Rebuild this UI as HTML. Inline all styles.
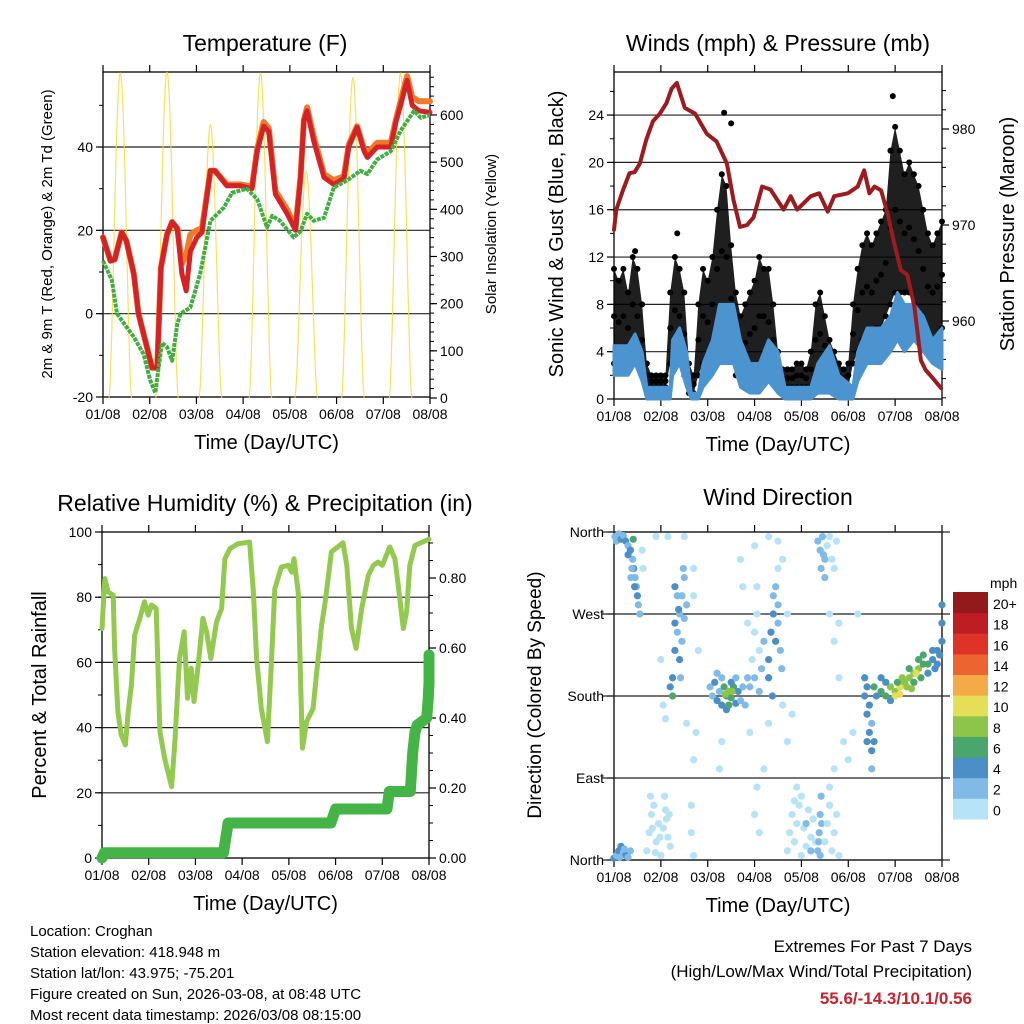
<!DOCTYPE html>
<html><head><meta charset="utf-8"><style>
html,body{margin:0;padding:0;background:#fff;}
svg{display:block;font-family:"Liberation Sans",sans-serif;}
</style></head><body>
<svg id="c" width="1024" height="1024" viewBox="0 0 1024 1024" xmlns="http://www.w3.org/2000/svg"></svg>
<script>
// ---------- DATA ----------
const dayLabels = ["01/08","02/08","03/08","04/08","05/08","06/08","07/08","08/08"];
// Temperature (F)
const tempDays = [0,0.16,0.25,0.4,0.5,0.66,0.76,0.94,1.05,1.16,1.24,1.37,1.48,1.59,1.69,1.78,1.87,2.01,2.12,2.3,2.4,2.65,2.94,3.19,3.3,3.44,3.55,3.69,3.94,4.12,4.23,4.3,4.37,4.51,4.73,4.94,5.16,5.26,5.44,5.59,5.66,5.87,6.16,6.27,6.37,6.51,6.62,6.76,7.0];
const tempRed = [18.3,12.7,13,19.5,17.5,9.6,0,-8,-13,-13,11,19,22,20.5,9.6,5.5,15,18.3,19.5,34.3,34.3,30.7,30.7,30,39,45,43.7,28.7,24,20,32.7,46.3,48.7,41.5,32.7,31,32.5,40,44.7,39,37.5,40,40,46,50,56,50,48.7,48.3];
const tempOrange = [18.3,12.7,13,19.5,17.5,9.6,0,-8,-13,-13,11,19,22,20.5,12,14,19,20,20.5,34.3,34.3,31,31,30.5,39.5,46,44.5,29.5,25,20.5,33,46.5,49.5,42.5,33.5,32,33,40.5,45,39.5,38.5,41,41,46.5,51,57,52,51,51];
const dewDays = [0,0.19,0.3,0.51,0.66,0.87,1.01,1.12,1.26,1.37,1.48,1.59,1.66,1.87,2.08,2.3,2.59,2.76,3.08,3.3,3.51,3.62,3.79,4.08,4.23,4.37,4.51,4.73,4.94,5.23,5.51,5.66,5.87,6.16,6.37,6.66,6.8,7.0];
const dewPoint = [12.7,8,0,-3.3,-5.6,-9.7,-16,-19,-7,-8,-11.3,-2.5,0,1.5,9.6,22.3,25.5,29,30,27.5,20.7,23.5,22.3,18.3,19.8,24,22.3,23,30.3,32,34.3,33.5,37,39,43.9,48.7,47,47.7];
const solarPeakDay = [0.37,1.37,2.3,3.37,4.35,5.35,6.37];
const solarPeakWm2 = [690,693,580,690,480,680,690];
// Winds (mph) & pressure (mb)
const presDays = [0,0.05,0.19,0.33,0.44,0.55,0.69,0.83,0.98,1.12,1.23,1.34,1.51,1.73,1.98,2.19,2.41,2.55,2.69,2.84,2.98,3.16,3.34,3.62,3.77,3.91,4.2,4.38,4.56,4.7,4.99,5.2,5.34,5.45,5.56,5.7,5.84,5.98,6.12,6.26,6.41,6.55,6.65,6.83,6.98];
const presMb = [969.5,971.6,973.6,975.4,975.5,976.4,978.9,980.8,981.6,982.7,984.2,984.8,982.2,981.6,979.5,978.7,976.4,972.6,969.8,970,970.8,974,973.7,971.6,973,971.6,973,973.3,971.4,973,973.3,974,975.7,973.3,974,973.6,971.2,968.1,965.3,964.8,961.5,955.9,954.9,953.9,953];
const windDays = [0,0.3,0.45,0.6,0.7,1.2,1.25,1.4,1.55,1.65,1.8,1.9,2.1,2.25,2.55,2.7,2.9,3.1,3.3,3.5,3.65,4.2,4.35,4.6,4.8,5.1,5.2,5.4,5.7,5.9,6.05,6.2,6.4,6.6,6.8,7.0];
const windHi = [4.5,4.5,5.5,4,1,1,5,6,4,0.5,0.5,3,5,8,8,5,3,3,5,4,1,1,3,4.5,2,1,4,6,6,7,9,8,8,7,5,6];
const windLo = [2,2,3,1.5,0,0,2,3,1,0,0,1,2,3,3,1,0.5,0.5,1.5,0.5,0,0,0.5,0.5,0,0,1.5,3,3,4,5,4,5,4,3,2.5];
const gustHi = [11,10,11,9,12,11,8,3,2,2,2,2,9,12,11,9,3,2,8,11,10,12,16,19,18,13,9,7,8,9,10,12,11,11,8,4,2.5,2.5,2.5,3,3,2.5,4,8,9,7,5,4,3,2.5,3,8,11,13,14,13,14,15,16,21,23,21,19,20,19,18,16,14,13,14,15];
const gustLo = [3,3,3,3,4,3,2,1,1,1,1,1,3,3,3,2,0.5,0.5,2,3,3,4,6,6,6,4,2,1.5,1.5,2,2,2,3,2,2,1,1,1,1,1,1,1,1,2,2,2,1.5,1,1,1,1,3,4,5,5,5,6,6,7,8,9,9,9,9,8,7,6,5,5,5,6];
const gustOutDay = [2.35,2.5,5.95,0.45,1.35];
const gustOutVal = [24.2,23.3,25.6,12.5,14];
// Relative humidity & precipitation
const rhDays = [0,0.06,0.13,0.24,0.27,0.34,0.41,0.5,0.56,0.63,0.7,0.81,0.91,0.99,1.06,1.16,1.24,1.34,1.49,1.56,1.66,1.76,1.83,1.91,1.97,2.06,2.16,2.24,2.33,2.45,2.56,2.63,2.74,2.91,3.16,3.24,3.31,3.41,3.54,3.63,3.7,3.84,3.99,4.06,4.11,4.2,4.29,4.38,4.52,4.59,4.7,4.77,4.91,5.16,5.24,5.34,5.44,5.56,5.7,5.81,5.91,6.0,6.16,6.27,6.34,6.45,6.52,6.59,6.7,7.0];
const rhPct = [70.4,85.7,81.6,80.6,64.3,44.9,37.8,34.7,44.9,53,68.4,73.5,78.6,74.5,77.6,76.5,38.8,30.6,21.9,35.7,61.2,69.4,49,58.2,48,59.2,73.5,69.4,61.2,72.4,76.5,91.8,94.9,96.4,96.9,81.6,61.2,45.9,35.7,61.2,82.6,89.3,89.8,87.7,91.8,81.6,33.7,41.8,45.9,56.1,71.4,77.6,93.9,96.7,89.8,70.4,64.3,76.5,86.7,89.8,90.8,89.8,95.4,91.8,83.7,70.4,75.5,89.8,95.9,97.8];
const prDays = [0,0.05,2.6,2.7,4.9,5.0,6.1,6.15,6.6,6.65,6.7,6.75,6.95,6.98,7.0,7.0];
const prInches = [0,0.015,0.015,0.1,0.1,0.14,0.14,0.19,0.19,0.3,0.36,0.38,0.4,0.45,0.5,0.58];
// Wind direction (day, degrees, speed mph)
const dirDays = [
0.02,0.05,0.1,0.15,0.2,0.25,0.3,0.35,0.4,0.42,0.45,0.48,0.5,0.52,0.55,0.41,0.3,0.38,0.44,0.36,0.6,0.62,
0,0.05,0.1,0.15,0.2,0.25,0.3,0.35,0.12,0.22,
0.7,0.75,0.8,0.85,0.9,0.95,1.0,1.05,1.1,1.15,1.2,0.78,1.08,0.88,1.12,0.82,0.98,1.18,
0.9,1.15,1.0,1.05,1.1,1.5,1.7,1.7,1.65,1.65,1.7,1.8,1.75,
1.25,1.3,1.35,1.4,1.45,1.5,1.3,1.4,1.45,1.35,1.5,1.42,1.3,1.55,1.2,1.25,1.38,1.48,
2.05,2.1,2.15,2.2,2.25,2.3,2.35,2.4,2.45,2.5,2.55,2.6,2.65,2.7,2.75,2.8,2.3,2.5,2.6,2.4,2.2,2.85,2.9,2.45,2.52,2.38,
2.95,3.0,3.05,3.1,3.0,3.1,2.85,2.9,3.05,3.15,3.2,2.75,2.7,
3.3,3.35,3.4,3.45,3.5,3.55,3.4,3.3,3.5,3.38,3.58,3.45,
3.0,3.05,3.1,3.2,3.3,3.6,3.7,3.8,3.5,3.5,3.6,3.3,3.0,3.7,2.25,2.3,1.7,1.55,
3.7,3.75,3.8,3.85,3.9,3.95,4.0,4.05,4.1,4.15,4.2,4.25,3.85,4.0,4.1,4.2,3.9,4.3,
4.35,4.38,4.4,4.42,4.37,4.43,4.4,
4.35,4.4,4.45,4.5,4.42,4.55,4.6,4.65,4.7,4.75,4.5,4.47,
4.5,4.55,4.6,4.65,4.7,4.75,4.8,4.6,4.7,
4.6,4.7,4.8,4.9,5.0,5.1,5.2,4.8,
5.35,5.4,5.45,5.5,5.4,5.45,5.5,5.55,5.35,5.6,5.5,5.4,5.55,
5.7,5.8,5.9,6.0,6.1,6.2,6.3,6.4,6.5,6.6,6.7,6.8,6.9,7.0,6.0,6.1,6.05,6.25,6.4,6.55,6.7,6.85,6.95,5.8,5.9,6.3,6.5,6.6,6.8,7.0,7.0,5.7,6.15,6.45,6.35,6.9];
const dirDegs = [
355,350,358,352,356,350,345,340,330,320,310,300,290,280,270,352,335,320,300,310,340,320,
2,5,10,15,8,5,3,10,3,12,
10,30,50,60,20,40,5,35,55,25,15,70,70,8,45,35,25,50,
355,355,220,170,155,355,320,290,60,30,5,230,140,
200,230,250,270,290,310,260,220,240,290,265,200,300,280,190,180,275,320,
190,180,195,175,185,170,190,180,185,178,190,172,185,175,190,170,200,195,200,165,205,200,190,170,185,182,
220,250,270,230,200,185,260,140,300,210,240,300,330,
220,250,270,240,260,230,290,200,280,180,210,300,
50,80,30,100,150,170,130,160,350,320,330,355,345,270,100,130,110,150,
10,30,50,20,40,60,5,35,15,55,25,45,65,70,40,10,80,20,
10,30,50,70,20,40,5,
350,340,355,330,320,345,355,330,320,350,310,335,
20,40,60,10,30,50,5,80,100,
270,240,200,130,110,140,270,260,
180,160,140,120,190,170,150,130,200,180,100,130,190,
185,180,190,185,190,195,200,205,210,215,215,220,230,240,180,182,195,190,195,200,205,210,225,195,175,210,220,225,230,260,280,200,200,205,188,215];
const dirSpeeds = [
3,3,3,4,2,4,3,4,3,4,3,3,4,3,3,6,5,3,4,3,1,1,
4,3,4,5,3,4,3,2,3,3,
1,1,1,1,1,1,1,1,1,1,1,1,1,1,1,1,1,1,
1,1,1,1,1,1,1,1,1,1,1,1,1,
4,4,3,3,3,3,4,4,3,3,3,3,4,3,5,6,4,3,
3,3,4,4,3,4,6,7,8,7,6,5,4,3,3,3,3,4,3,4,2,2,2,6,9,8,
1,1,1,1,2,2,1,1,1,2,2,1,1,
4,4,4,4,3,3,3,4,3,4,2,2,
1,1,1,1,1,1,1,1,1,1,1,1,1,1,1,1,1,1,
1,1,1,1,1,1,1,1,1,1,1,1,1,1,2,2,1,1,
3,3,3,2,3,3,2,
2,3,2,3,3,1,1,1,1,1,2,3,
1,1,1,1,1,1,1,1,1,
1,1,1,1,1,1,1,1,
4,4,4,4,4,4,3,4,4,5,3,4,6,
6,7,8,9,10,9,8,9,8,7,6,5,4,4,10,11,7,8,7,7,5,4,4,5,5,7,6,6,4,4,4,5,9,10,9,5];
const speedBinColors = ["#b6e3f8","#7fbbe6","#4a8fc8","#4aa66c","#8cc54a","#e5df57","#f5aa48","#ec6531","#de3327","#bd1d23","#921a1b"];
const speedBinLabels = ["0","2","4","6","8","10","12","14","16","18","20+"];

// ---------- HELPERS ----------
const NS="http://www.w3.org/2000/svg";
const svg=document.getElementById('c');
function mk(tag,attrs,parent){const e=document.createElementNS(NS,tag);for(const k in attrs)e.setAttribute(k,attrs[k]);(parent||svg).appendChild(e);return e;}
function txt(s,x,y,size,anchor,parent,extra){const e=mk('text',Object.assign({x:x,y:y,'font-size':size,'text-anchor':anchor||'middle',fill:'#000'},extra||{}),parent);e.textContent=s;return e;}
function grp(name){const g=mk('g',{});return g;}
function pts(xs,ys,fx,fy){return xs.map((d,i)=>fx(d).toFixed(1)+','+fy(ys[i]).toFixed(1)).join(' ');}

function frame(p,name){
  const g=grp(name);
  mk('rect',{x:p.x0,y:p.y0,width:p.x1-p.x0,height:p.y1-p.y0,fill:'none',stroke:'#000','stroke-width':1.3},g);
  for(let d=0;d<=7;d++){
    const x=p.x0+d*(p.x1-p.x0)/7;
    mk('line',{x1:x,y1:p.y0,x2:x,y2:p.y0-7,stroke:'#000','stroke-width':1.2},g);
    mk('line',{x1:x,y1:p.y1,x2:x,y2:p.y1+7,stroke:'#000','stroke-width':1.2},g);
    const t=txt(dayLabels[d],x,p.y1+22,14,'middle',g);
    
    
  }
  const xt=txt('Time (Day/UTC)',(p.x0+p.x1)/2,p.y1+52,20,'middle',g);
  
  
  return g;
}
function yAxis(g,p,fy,vals,labels,minor,side,gridOn,fmtX){
  const xe = side==='left'?p.x0:p.x1, dir = side==='left'?-1:1;
  minor.forEach(v=>{const y=fy(v);mk('line',{x1:xe,y1:y,x2:xe+dir*4,y2:y,stroke:'#000','stroke-width':1},g);});
  vals.forEach((v,i)=>{const y=fy(v);
    mk('line',{x1:xe,y1:y,x2:xe+dir*7,y2:y,stroke:'#000','stroke-width':1.2},g);
    if(gridOn) mk('line',{x1:p.gx0||p.x0,y1:y,x2:p.gx1||p.x1,y2:y,stroke:'#222','stroke-width':1.2},g);
    const t=txt(labels[i],xe+dir*10,y+5,14,side==='left'?'end':'start',g);
    
    
  });
}
function rotLabel(s,x,y,size,name){const t=txt(s,x,y,size,'middle',svg,{transform:'rotate(-90 '+x+' '+y+')'});}
function title(s,x,y,name){const t=txt(s,x,y,23,'middle');}

// ---------- PANEL 1: TEMPERATURE ----------
(function(){
const p={x0:103,x1:430,y0:72,y1:397};
const fx=d=>p.x0+d*(p.x1-p.x0)/7;
const fy=v=>p.y1-(v+20)*(p.y1-p.y0)/78;
const fs=v=>398-v*0.4717;
const g=frame(p,'temperature-panel');
const rng=[];for(let v=-20;v<=55;v+=10)rng.push(v);
yAxis(g,p,fy,[-20,0,20,40],["-20","0","20","40"],rng,'left',true);
const sm=[];for(let v=0;v<=680;v+=20)sm.push(v);
yAxis(g,p,fs,[0,100,200,300,400,500,600],["0","100","200","300","400","500","600"],sm,'right',false);
// solar
const sg=grp('solar-insolation-series');
solarPeakDay.forEach((pd,i)=>{
  const a=[];for(let k=0;k<=24;k++){const t=pd-0.24+k*0.02;const s=Math.max(0,Math.sin(Math.PI*k/24));a.push(fx(t).toFixed(1)+','+Math.max(p.y0,fs(solarPeakWm2[i]*Math.pow(s,1.6))).toFixed(1));}
  const l=mk('polyline',{points:a.join(' '),fill:'none',stroke:'#f7dc3c','stroke-width':1.2,opacity:0.85},sg);
  
  
});
const o=mk('polyline',{points:pts(tempDays,tempOrange,fx,fy),fill:'none',stroke:'#f07a2a','stroke-width':6,'stroke-linejoin':'round','stroke-linecap':'round'});

const r=mk('polyline',{points:pts(tempDays,tempRed,fx,fy),fill:'none',stroke:'#d42226','stroke-width':5,'stroke-linejoin':'round','stroke-linecap':'round'});

const gr=mk('polyline',{points:pts(dewDays,dewPoint,fx,fy),fill:'none',stroke:'#40ae40','stroke-width':4,'stroke-linejoin':'round','stroke-dasharray':'4 1'});

title('Temperature (F)',265,51,'temperature-title');
rotLabel('2m & 9m T (Red, Orange) & 2m Td (Green)',52,234,15,'temperature-y-axis-title');
rotLabel('Solar Insolation (Yellow)',496,234,15,'solar-y-axis-title');
})();

// ---------- PANEL 2: WINDS ----------
(function(){
const p={x0:614,x1:942,y0:72,y1:399};
const fx=d=>p.x0+d*(p.x1-p.x0)/7;
const fy=v=>p.y1-v*11.83;
const fp=v=>129+(980-v)*9.6;
const g=frame(p,'winds-panel');
const mn=[];for(let v=0;v<=27;v+=2)mn.push(v);
yAxis(g,p,fy,[0,4,8,12,16,20,24],["0","4","8","12","16","20","24"],mn,'left',true);
const pm=[];for(let v=952;v<=985;v+=2)pm.push(v);
yAxis(g,p,fp,[960,970,980],["960","970","980"],pm,'right',false);
// gust envelope
const gd=gustHi.map((_,i)=>i*0.1);
const env=gd.map((d,i)=>fx(d).toFixed(1)+','+fy(gustHi[i]).toFixed(1)).concat(gd.slice().reverse().map((d,j)=>{const i=gd.length-1-j;return fx(d).toFixed(1)+','+fy(gustLo[i]).toFixed(1);}));
const ge=mk('polygon',{points:env.join(' '),fill:'#000',opacity:0.88});

const dg=grp('gust-points');
gd.forEach((d,i)=>{[gustHi[i],gustLo[i],(gustHi[i]+gustLo[i])/2].forEach(v=>{
  const c=mk('circle',{cx:fx(d),cy:fy(v),r:3,fill:'#000'},dg);
  });});
gustOutDay.forEach((d,i)=>{const c=mk('circle',{cx:fx(d),cy:fy(gustOutVal[i]),r:3,fill:'#000'},dg);
  });
// sustained band
const band=windDays.map((d,i)=>fx(d).toFixed(1)+','+fy(windHi[i]).toFixed(1)).concat(windDays.slice().reverse().map((d,j)=>{const i=windDays.length-1-j;return fx(d).toFixed(1)+','+fy(windLo[i]).toFixed(1);}));
const wb=mk('polygon',{points:band.join(' '),fill:'#4b94d0',stroke:'#4b94d0','stroke-width':3,'stroke-linejoin':'round'});

const pl=mk('polyline',{points:pts(presDays,presMb,fx,fp),fill:'none',stroke:'#9b1b1e','stroke-width':4,'stroke-linejoin':'round','stroke-linecap':'round'});

title('Winds (mph) & Pressure (mb)',778,51,'winds-title');
rotLabel('Sonic Wind & Gust (Blue, Black)',563,234,20,'wind-y-axis-title');
rotLabel('Station Pressure (Maroon)',1014,234,20,'pressure-y-axis-title');
})();

// ---------- PANEL 3: RH & PRECIP ----------
(function(){
const p={x0:102,x1:429,y0:532,y1:858};
const fx=d=>p.x0+d*(p.x1-p.x0)/7;
const fy=v=>p.y1-v*3.26;
const fr=v=>p.y1-v*350;
const g=frame(p,'humidity-panel');
const mn=[];for(let v=0;v<=100;v+=10)mn.push(v);
yAxis(g,p,fy,[0,20,40,60,80,100],["0","20","40","60","80","100"],mn,'left',false);
[20,40,60,80].forEach(v=>mk('line',{x1:p.x0,y1:fy(v),x2:p.x1,y2:fy(v),stroke:'#222','stroke-width':1.2},g));
const rm=[];for(let v=0;v<=0.93;v+=0.05)rm.push(v);
yAxis(g,p,fr,[0,0.2,0.4,0.6,0.8],["0.00","0.20","0.40","0.60","0.80"],rm,'right',false);
const rl=mk('polyline',{points:pts(rhDays,rhPct,fx,fy),fill:'none',stroke:'#92c94e','stroke-width':5,'stroke-linejoin':'round','stroke-linecap':'round'});

const pr=mk('polyline',{points:pts(prDays,prInches,fx,fr),fill:'none',stroke:'#45b446','stroke-width':11,'stroke-linejoin':'round','stroke-linecap':'round'});

title('Relative Humidity (%) & Precipitation (in)',265,511,'humidity-title');
rotLabel('Percent & Total Rainfall',46,695,20,'humidity-y-axis-title');
})();

// ---------- PANEL 4: WIND DIRECTION ----------
(function(){
const p={x0:614,x1:942,y0:532,y1:860,gx0:602,gx1:950};
const fx=d=>p.x0+d*(p.x1-p.x0)/7;
const fy=v=>p.y1-v*(p.y1-p.y0)/360;
const g=frame(p,'wind-direction-panel');
yAxis(g,p,fy,[0,90,180,270,360],["North","East","South","West","North"],[],'left',true);
const dg=grp('wind-direction-points');
dirDays.forEach((d,i)=>{
  const b=Math.min(10,Math.floor(dirSpeeds[i]/2));
  const c=mk('circle',{cx:fx(d),cy:fy(dirDegs[i]),r:3.6,fill:speedBinColors[b]},dg);
  
  
});
title('Wind Direction',778,505,'wind-direction-title');
rotLabel('Direction (Colored By Speed)',541,695,19,'direction-y-axis-title');
// colorbar
const cb=grp('speed-colorbar');
const h=227/11;
speedBinColors.forEach((col,i)=>{
  const y=819-(i+1)*h;
  const r=mk('rect',{x:953,y:y.toFixed(1),width:35,height:(h+0.5).toFixed(1),fill:col},cb);
  
  const t=txt(speedBinLabels[i],993,y+17,14,'start',cb);
  
});
const u=txt('mph',990,588,14,'start',cb);
})();

// ---------- FOOTER ----------
const info=["Location: Croghan","Station elevation: 418.948 m","Station lat/lon: 43.975; -75.201","Figure created on Sun, 2026-03-08, at 08:48 UTC","Most recent data timestamp: 2026/03/08 08:15:00"];
const ig=grp('station-info');
info.forEach((s,i)=>{const t=txt(s,30,936+i*21,15,'start',ig);});
const eg=grp('extremes-summary');
let t1=txt('Extremes For Past 7 Days',972,952,17,'end',eg);
let t2=txt('(High/Low/Max Wind/Total Precipitation)',972,977,17,'end',eg);
let t3=txt('55.6/-14.3/10.1/0.56',972,1004,17,'end',eg,{fill:'#c8232c','font-weight':'bold'});
</script>
</body></html>
